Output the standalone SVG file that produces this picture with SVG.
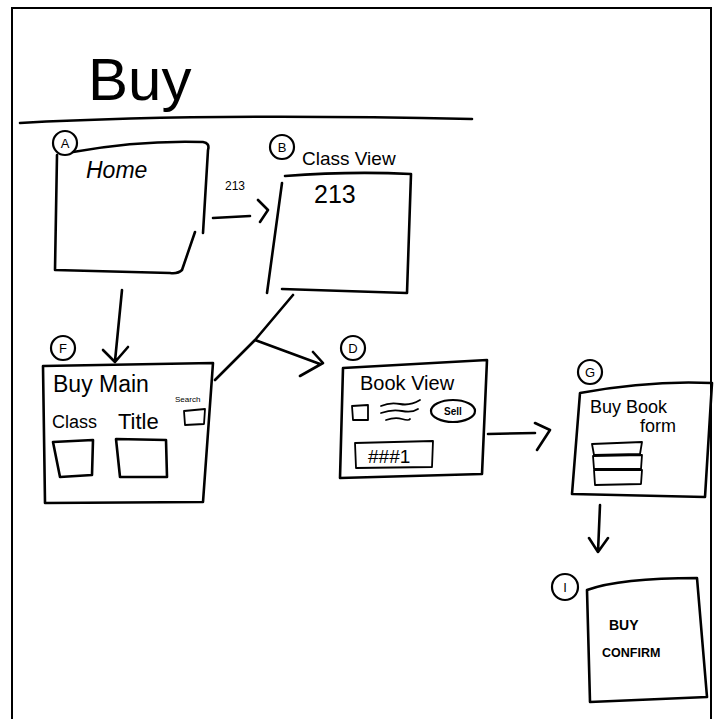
<svg xmlns="http://www.w3.org/2000/svg" width="719" height="719" viewBox="0 0 719 719">
<style>
.s{fill:none;stroke:#000;stroke-width:2.6;stroke-linecap:round;stroke-linejoin:round}
.t{stroke-width:1.8}
.c{fill:none;stroke:#000;stroke-width:2.2}
text{font-family:"Liberation Sans","DejaVu Sans",sans-serif;fill:#000}
.lab{font-size:13px;text-anchor:middle}
</style>
<rect x="0" y="0" width="719" height="719" fill="#fff"/>
<rect x="12" y="8" width="699" height="730" fill="none" stroke="#000" stroke-width="2"/>
<g id="title">
<text x="88" y="100" font-size="60">Buy</text>
<path class="s" d="M20,123 Q200,113 472,119"/>
</g>
<g id="nodeA">
<circle class="c" cx="65" cy="143" r="12"/><text class="lab" x="65" y="148">A</text>
<path class="s" d="M73,152 Q140,140 203,142 Q210,143 208,150 L203,233 M195,232 L182,270 Q178,274 170,273 L55,270 L57,155"/>
<text x="86" y="178" font-size="23" font-style="italic">Home</text>
</g>
<g id="nodeB">
<circle class="c" cx="282" cy="147" r="12"/><text class="lab" x="282" y="152">B</text>
<text x="302" y="165" font-size="19">Class View</text>
<path class="s" d="M285,176 Q350,171 411,174 L407,293 L282,289 M282,183 L267,293"/>
<text x="314" y="203" font-size="25">213</text>
</g>
<g id="nodeF">
<circle class="c" cx="63" cy="348" r="12"/><text class="lab" x="63" y="353">F</text>
<path class="s" d="M43,366 L213,363 L203,502 L45,503 Z"/>
<text x="53" y="392" font-size="23">Buy Main</text>
<text x="175" y="402" font-size="8">Search</text>
<path class="s t" d="M184,411 L205,409 L204,424 L185,425 Z"/>
<text x="52" y="428" font-size="18">Class</text>
<text x="118" y="429" font-size="22">Title</text>
<path class="s" d="M53,442 L93,440 L92,475 L60,477 Z M116,439 L166,440 L167,477 L120,477 Z"/>
</g>
<g id="nodeD">
<circle class="c" cx="353" cy="348" r="12"/><text class="lab" x="353" y="353">D</text>
<path class="s" d="M343,368 L487,360 L482,474 L340,478 Z"/>
<text x="360" y="390" font-size="20">Book View</text>
<path class="s t" d="M352,406 L368,405 L368,420 L353,420 Z"/>
<path class="s t" d="M381,406 Q390,402 400,404 T420,400 M381,413 Q392,409 402,411 T418,409 M386,420 Q395,417 402,419 T410,419"/>
<ellipse class="c" cx="453" cy="411" rx="22" ry="11"/>
<text x="453" y="415" font-size="10" text-anchor="middle" font-weight="bold">Sell</text>
<path class="s t" d="M355,443 L433,441 L432,467 L356,468 Z"/>
<text x="368" y="463" font-size="19">###1</text>
</g>
<g id="nodeG">
<circle class="c" cx="590" cy="372" r="12"/><text class="lab" x="590" y="377">G</text>
<path class="s" d="M580,393 Q650,380 712,383 L705,497 L572,494 Z"/>
<text x="590" y="413" font-size="18">Buy Book</text>
<text x="640" y="432" font-size="18">form</text>
<path class="s t" d="M592,444 L642,442 L640,454 L594,455 Z M593,456 L642,455 L641,469 L594,469 Z M594,470 L642,470 L641,484 L595,485 Z"/>
</g>
<g id="nodeI">
<circle class="c" cx="565" cy="587" r="13"/><text class="lab" x="565" y="592">I</text>
<path class="s" d="M587,590 Q620,578 697,578 L707,697 L590,702 Z"/>
<text x="609" y="630" font-size="14" font-weight="bold">BUY</text>
<text x="602" y="657" font-size="12.5" font-weight="bold">CONFIRM</text>
</g>
<g id="connectors">
<text x="225" y="190" font-size="12">213</text>
<path class="s" d="M213,218 L250,216 M258,200 L268,210 L260,222"/>
<path class="s" d="M122,290 L115,361 M103,350 L115,362 L128,347"/>
<path class="s" d="M293,295 L255,340 L215,380 M255,340 L320,364 M313,352 L323,363 L300,376"/>
<path class="s" d="M488,434 L535,433 M535,423 L550,430 L537,450"/>
<path class="s" d="M600,505 L598,552 M589,538 L598,552 L608,538"/>
</g>
</svg>
